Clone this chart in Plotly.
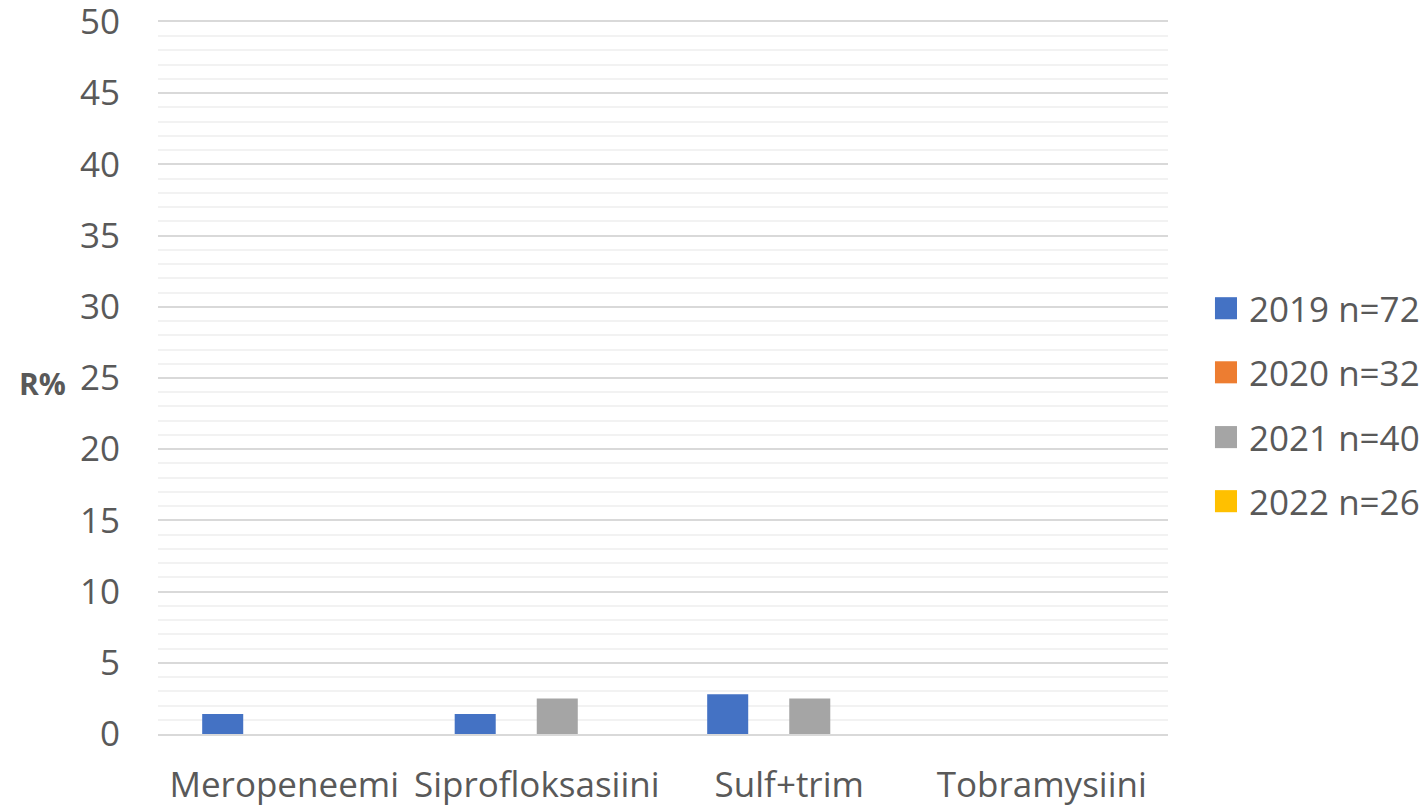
import plotly.graph_objects as go

categories = ["Meropeneemi", "Siprofloksasiini", "Sulf+trim", "Tobramysiini"]
series_names = ["2019 n=72", "2020 n=32", "2021 n=40", "2022 n=26"]
v2019 = [1.4, 1.4, 2.8, 0]
v2020 = [0, 0, 0, 0]
v2021 = [0, 2.5, 2.5, 0]
v2022 = [0, 0, 0, 0]
colors = ["#4472C4", "#ED7D31", "#A5A5A5", "#FFC000"]
y_ticks = [0, 5, 10, 15, 20, 25, 30, 35, 40, 45, 50]

FONT = "Open Sans"
TXT = "#595959"
FS = 35

fig = go.Figure()
for name, vals, c in zip(series_names, [v2019, v2020, v2021, v2022], colors):
    fig.add_trace(go.Bar(x=categories, y=vals, name=name, marker_color=c,
                         marker_line_width=0, showlegend=False))

fig.update_layout(
    width=1427, height=806,
    paper_bgcolor="white", plot_bgcolor="white",
    margin=dict(l=158, r=259, t=22, b=72, autoexpand=False),
    barmode="group", bargap=0.35, bargroupgap=0,
    font=dict(family=FONT, color=TXT, size=FS),
    showlegend=False,
)
fig.update_yaxes(range=[0, 50], tickvals=y_ticks, showgrid=True,
                 gridcolor="#D9D9D9", gridwidth=2,
                 minor=dict(dtick=1, showgrid=True, gridcolor="#F2F2F2", gridwidth=2),
                 zeroline=False, showline=False, ticklabeloverflow="allow",
                 ticks="outside", ticklen=30, tickcolor="rgba(0,0,0,0)",
                 tickfont=dict(size=FS, color=TXT, family=FONT))
fig.update_xaxes(showline=True, mirror=True, linecolor="#D9D9D9", linewidth=2,
                 ticklabeloverflow="allow",
                 ticks="outside", ticklen=19, tickcolor="rgba(0,0,0,0)",
                 tickfont=dict(size=FS, color=TXT, family=FONT))
fig.add_annotation(text="<b>R%</b>", xref="paper", yref="y", x=-0.089, y=24.6,
                   xanchor="right", yanchor="middle", showarrow=False,
                   font=dict(size=30, color=TXT, family=FONT))

# legend drawn manually (larger squares and spacing than plotly's legend)
legend_y = [0.598, 0.508, 0.417, 0.327]
for name, c, ly in zip(series_names, colors, legend_y):
    fig.add_shape(type="rect", xref="paper", yref="paper",
                  x0=1.0465, x1=1.0683, y0=ly - 0.0155, y1=ly + 0.0155,
                  fillcolor=c, line_width=0)
    fig.add_annotation(text=name, xref="paper", yref="paper", x=1.078, y=ly,
                       xanchor="left", yanchor="middle", showarrow=False,
                       font=dict(size=FS, color=TXT, family=FONT))

fig.write_html("out.html", config={"displayModeBar": False},
               post_script="document.body.style.margin='0';")
